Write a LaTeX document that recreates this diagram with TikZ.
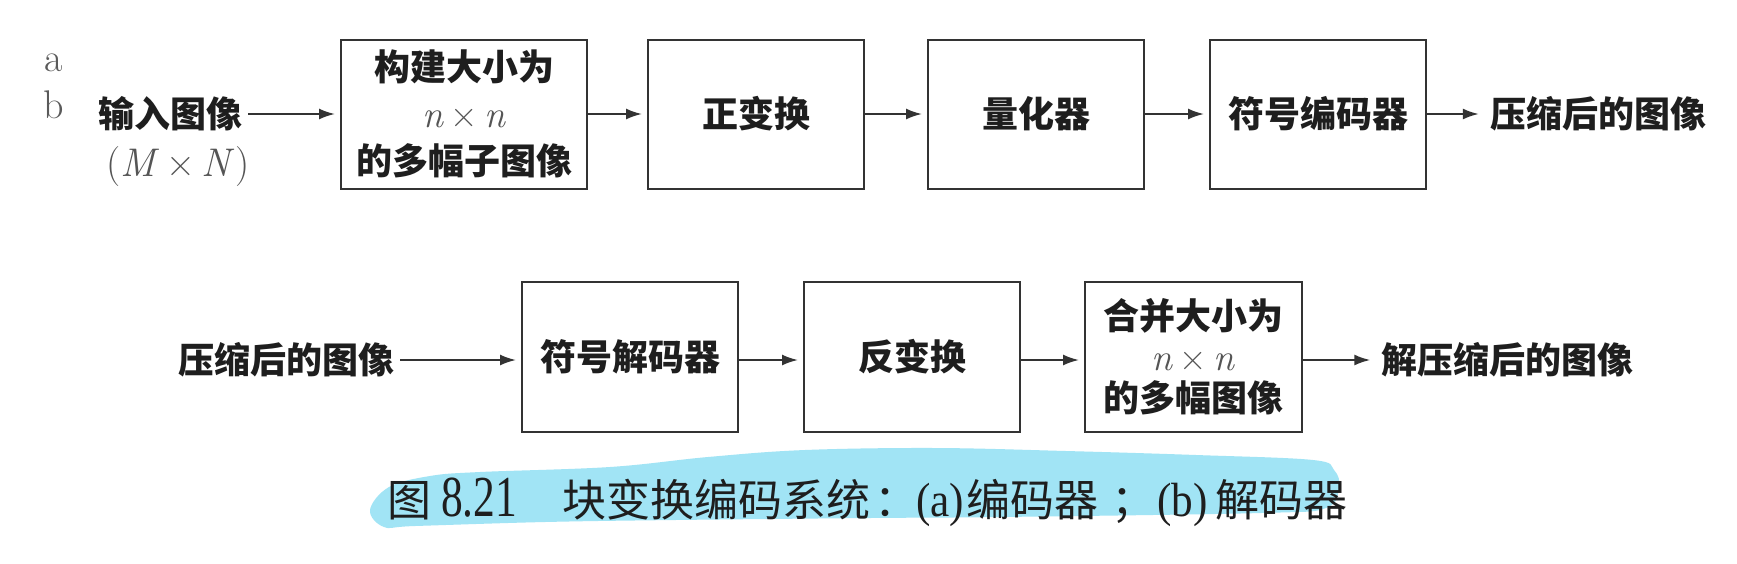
\documentclass[tikz,border=0pt]{standalone}
\usepackage{fontspec}
\usetikzlibrary{arrows.meta}
\newfontfamily\cjk{Noto Sans CJK SC}
\newfontfamily\capser{Liberation Serif}
\definecolor{txt}{HTML}{1E1E1E}
\definecolor{boxc}{HTML}{333333}
\definecolor{grayc}{HTML}{555555}
\definecolor{labc}{HTML}{5A5A5A}
\definecolor{hl}{HTML}{A1E4F5}
\newcommand\bt{\cjk\bfseries\fontsize{36}{47}\selectfont}
\newcommand\btt{\cjk\bfseries\fontsize{36}{41}\selectfont}
\newcommand\nn{{\rmfamily\mdseries\fontsize{38}{47}\selectfont\color{grayc}\textit{n}\,×\,\textit{n}}}
\newcommand\nnn{{\rmfamily\mdseries\fontsize{38}{41}\selectfont\color{grayc}\textit{n}\,×\,\textit{n}}}
\begin{document}
\begin{tikzpicture}[x=1pt,y=-1pt,
  blk/.style={draw=boxc, line width=2pt, minimum height=149pt, inner sep=0pt, font=\bt, text=txt, align=center},
  lbl/.style={font=\bt, text=txt, inner xsep=6pt, inner ysep=0pt},
  lab/.style={font=\fontsize{40}{40}\selectfont, text=labc, inner sep=0pt, anchor=base},
  capc/.style={font=\cjk\fontsize{44}{44}\selectfont, text=txt, inner sep=0pt, anchor=base west},
  capd/.style={font=\capser\fontsize{58}{58}\selectfont, text=txt, inner sep=0pt, anchor=base west, xscale=0.75},
  capl/.style={font=\capser\fontsize{48}{48}\selectfont, text=txt, inner sep=0pt, anchor=base west, xscale=0.9},
  arr/.style={-{Latex[length=16pt,width=11pt]}, line width=2pt, draw=boxc, shorten >=5pt}]
\useasboundingbox (0,0) rectangle (1737,563);
\fill[white] (0,0) rectangle (1737,563);

% highlight blob behind caption
\fill[hl] plot[smooth cycle, tension=0.6] coordinates {(370,510) (389,487) (430,476) (480,472) (610,467) (708,457) (805,450) (935,448) (1066,451) (1196,455) (1313,460) (1334,470) (1339,487) (1326,508) (1261,513) (1001,517) (870,518) (675,520) (545,522) (415,526) (384,527)};

% row 1: encoder
\node[lab] (la) at (54,71) {a};
\node[lab] (lb) at (54,118) {b};
\node[lbl] (in1) at (170,114) {输入图像};
\node[font=\fontsize{40}{40}\selectfont, text=grayc, inner sep=0pt] (mn) at (178,167) {(\textit{M}\,×\,\textit{N})};
\node[blk, minimum width=246pt] (b1) at (464,114) {构建大小为\\\nn\\的多幅子图像};
\node[blk, minimum width=216pt] (b2) at (756,114) {正变换};
\node[blk, minimum width=216pt] (b3) at (1036,114) {量化器};
\node[blk, minimum width=216pt] (b4) at (1318,114) {符号编码器};
\node[lbl] (out1) at (1598,114) {压缩后的图像};
\draw[arr] (in1.east) -- (b1.west);
\draw[arr] (b1.east) -- (b2.west);
\draw[arr] (b2.east) -- (b3.west);
\draw[arr] (b3.east) -- (b4.west);
\draw[arr] (b4.east) -- (out1.west);

% row 2: decoder
\node[lbl] (in2) at (286,360) {压缩后的图像};
\node[blk, minimum width=216pt, minimum height=150pt] (d1) at (630,357) {符号解码器};
\node[blk, minimum width=216pt, minimum height=150pt] (d2) at (912,357) {反变换};
\node[blk, minimum width=217pt, minimum height=150pt, font=\btt] (d3) at (1193.5,357) {合并大小为\\\nnn\\的多幅图像};
\node[lbl] (out2) at (1507.5,360) {解压缩后的图像};
\draw[arr] (in2.east) -- (in2.east -| d1.west);
\draw[arr] (d1.east |- in2.east) -- (in2.east -| d2.west);
\draw[arr] (d2.east |- in2.east) -- (in2.east -| d3.west);
\draw[arr] (d3.east |- in2.east) -- (out2.west);

% caption
\node[capc] (c1) at (387,516) {图};
\node[capd] (c2) at (441,516) {8.21};
\node[capc] (c3) at (562,516) {块变换编码系统};
\node[capc] (c3b) at (874,516) {：};
\node[capl] (c4) at (916,516) {(a)};
\node[capc] (c5) at (966,516) {编码器};
\node[capc] (c6) at (1111,516) {；};
\node[capl] (c7) at (1157,516) {(b)};
\node[capc] (c8) at (1215,516) {解码器};
\end{tikzpicture}
\end{document}
